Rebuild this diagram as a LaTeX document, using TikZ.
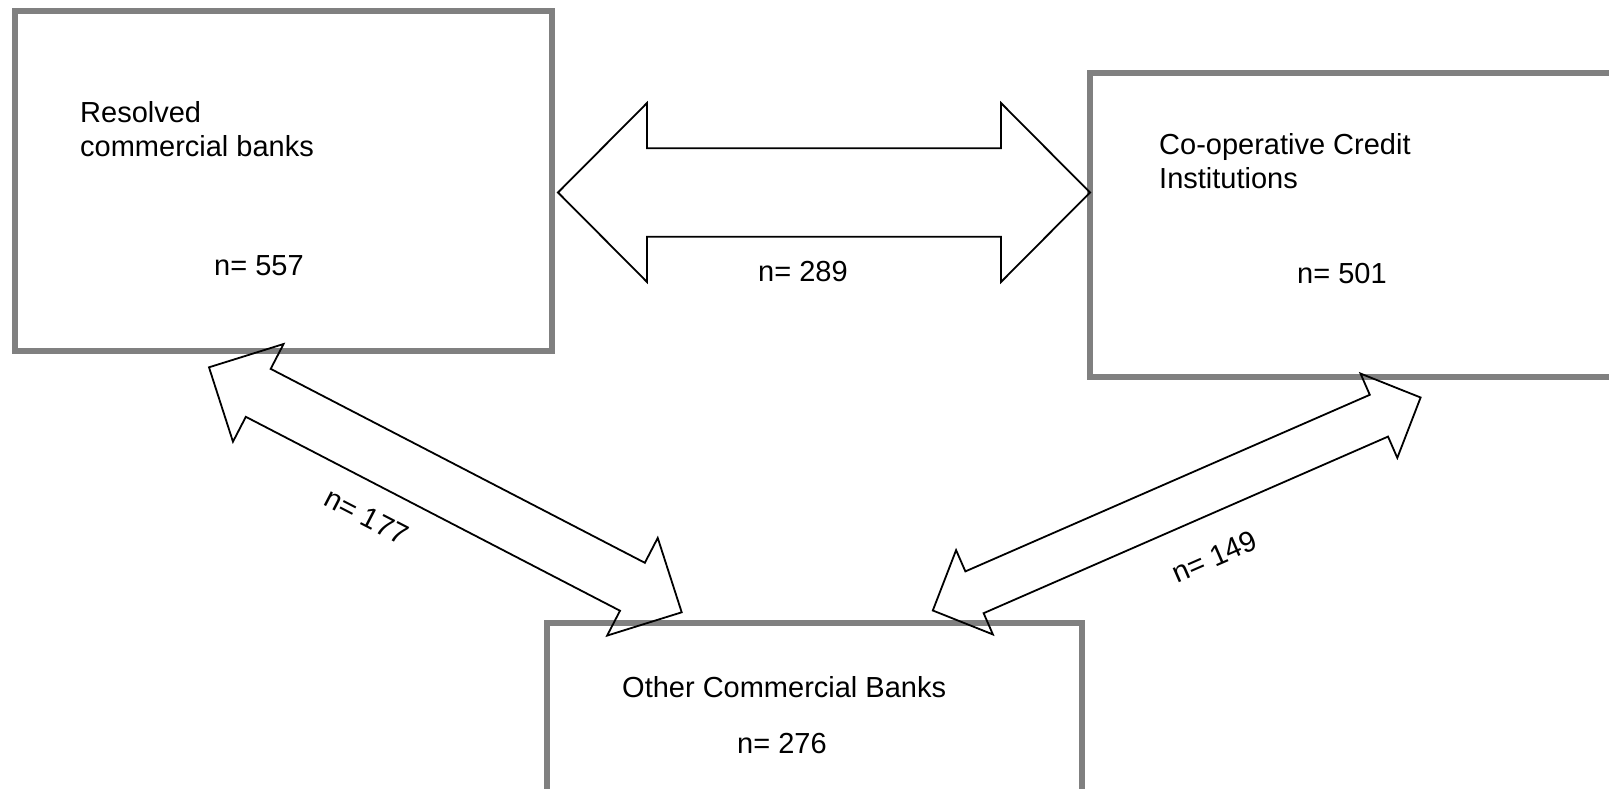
\documentclass[tikz,border=0pt]{standalone}
\usepackage{fontspec}
\setmainfont{Liberation Sans}
\usetikzlibrary{calc}
\definecolor{boxgray}{RGB}{128,128,128}
\tikzset{
  bank/.style={draw=boxgray, line width=6pt, rectangle, inner sep=0pt, outer sep=0pt},
  lbl/.style={inner sep=0pt, anchor=base west, font=\fontsize{29pt}{33pt}\selectfont},
  rlbl/.style={inner sep=0pt, font=\fontsize{29pt}{33pt}\selectfont},
  arrowshape/.style={draw=black, line width=1.8pt, line join=miter}
}
% #1 name, #2 tip A, #3 tip B, #4 head length, #5 head half width, #6 shaft half width
\newcommand\dblblockarrow[6]{%
  \path ($(#2)!#4!(#3)$) coordinate (#1-ba) ($(#3)!#4!(#2)$) coordinate (#1-bb);
  \draw[arrowshape] (#2) -- ($(#1-ba)!#5!90:(#3)$) -- ($(#1-ba)!#6!90:(#3)$)
    -- ($(#1-bb)!#6!-90:(#2)$) -- ($(#1-bb)!#5!-90:(#2)$) -- (#3)
    -- ($(#1-bb)!#5!90:(#2)$) -- ($(#1-bb)!#6!90:(#2)$)
    -- ($(#1-ba)!#6!-90:(#3)$) -- ($(#1-ba)!#5!-90:(#3)$) -- cycle;}
\begin{document}
\begin{tikzpicture}[x=1pt,y=-1pt]
\useasboundingbox (0,0) rectangle (1609,789);
\clip (0,0) rectangle (1609,789);
\fill[white] (0,0) rectangle (1609,789);
% boxes
\node[bank, minimum width=537pt, minimum height=340pt] (res) at (283.5,181) {};
\node[bank, minimum width=537pt, minimum height=304pt] (coop) at (1358.5,225) {};
\node[bank, minimum width=535pt, minimum height=277pt] (oth) at (814.5,761.5) {};
% box texts
\node[lbl] (res1) at (80,123) {Resolved};
\node[lbl] (res2) at (80,157) {commercial banks};
\node[lbl] (resn) at (214,275) {n= 557};
\node[lbl] (coop1) at (1159,155) {Co-operative Credit};
\node[lbl] (coop2) at (1159,188) {Institutions};
\node[lbl] (coopn) at (1297,283) {n= 501};
\node[lbl] (oth1) at (622,697) {Other Commercial Banks};
\node[lbl] (othn) at (737,753) {n= 276};
% arrow end points
\coordinate (hA) at (558,192.5);
\coordinate (hB) at (1090,192.5);
\coordinate (lA) at (209,367.3);
\coordinate (lB) at (681.7,612.3);
\coordinate (rA) at (932.8,610.5);
\coordinate (rB) at (1420.6,397.5);
% block arrows
\dblblockarrow{ha}{hA}{hB}{89pt}{89.5pt}{44.25pt}
\dblblockarrow{la}{lA}{lB}{55.5pt}{55pt}{27pt}
\dblblockarrow{ra}{rA}{rB}{45.5pt}{46pt}{22.8pt}
% arrow labels
\node[lbl] (hn) at (758,281) {n= 289};
\node[rlbl, rotate=-27.4] (ln) at (366.7,516.7) {n= 177};
\node[rlbl, rotate=23.6] (rn) at (1214.4,556.4) {n= 149};
\end{tikzpicture}
\end{document}
